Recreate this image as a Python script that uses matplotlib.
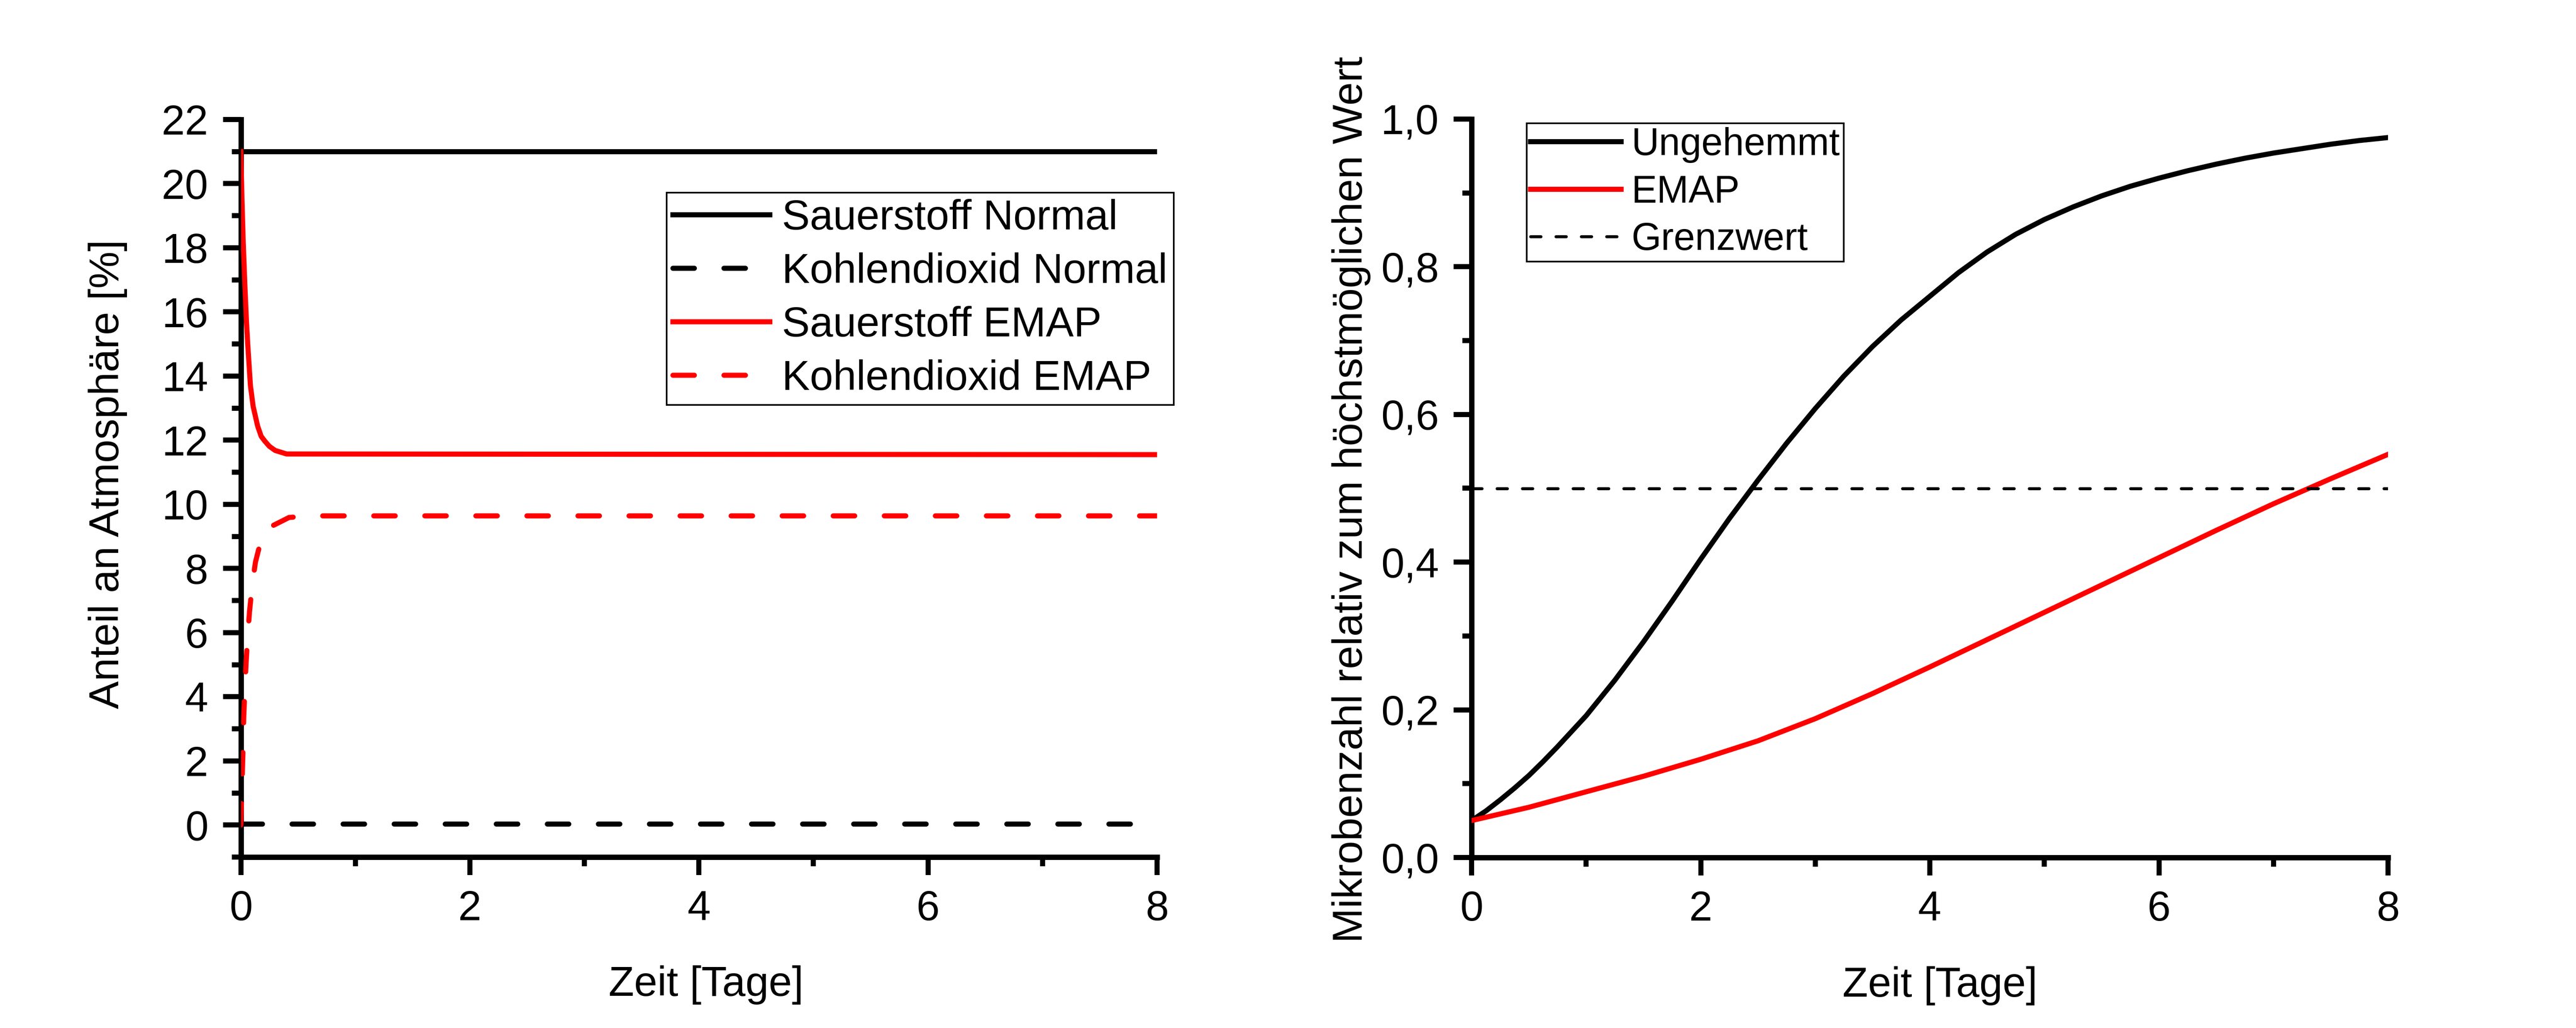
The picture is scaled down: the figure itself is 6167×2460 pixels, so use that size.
import matplotlib
matplotlib.use("Agg")
import matplotlib.pyplot as plt
from matplotlib.ticker import MultipleLocator, FuncFormatter

plt.rcParams['font.family'] = ['Liberation Sans', 'DejaVu Sans']

# ---------------- data: left panel ----------------
t_normal = [0, 8]
o2_normal = [21.0, 21.0]
co2_normal = [0.03, 0.03]

t_o2_emap = [0, 0.01, 0.02, 0.035, 0.05, 0.061, 0.084, 0.108, 0.147, 0.178, 0.21, 0.249, 0.3, 0.4, 8]
o2_emap = [21.0, 19.55, 18.3, 16.87, 15.66, 14.97, 13.70, 13.05, 12.44, 12.12, 11.97, 11.81, 11.68, 11.57, 11.55]

t_co2_emap = [0, 0.005, 0.011, 0.018, 0.026, 0.036, 0.047, 0.06, 0.076, 0.1, 0.128, 0.16, 0.19, 0.232, 0.421, 0.6, 8]
co2_emap = [0, 0.6, 1.3, 2.2, 3.4, 4.3, 5.1, 5.9, 6.65, 7.5, 8.2, 8.65, 9.0, 9.25, 9.59, 9.64, 9.64]

# ---------------- data: right panel ----------------
t_ung = [0, 0.125, 0.25, 0.375, 0.5, 0.625, 0.75, 0.875, 1.0, 1.25, 1.5, 1.75, 2.0, 2.25, 2.5,
         2.75, 3.0, 3.25, 3.5, 3.75, 4.0, 4.25, 4.5, 4.75, 5.0, 5.25, 5.5, 5.75, 6.0, 6.25,
         6.5, 6.75, 7.0, 7.25, 7.5, 7.75, 8.0]
ung = [0.05, 0.063, 0.078, 0.094, 0.111, 0.13, 0.15, 0.171, 0.192, 0.24, 0.292, 0.347, 0.404,
       0.459, 0.511, 0.561, 0.608, 0.652, 0.692, 0.728, 0.76, 0.792, 0.82, 0.844, 0.864, 0.881,
       0.896, 0.909, 0.92, 0.93, 0.939, 0.947, 0.954, 0.96, 0.966, 0.971, 0.975]

t_emap = [0, 0.5, 1, 1.5, 2, 2.5, 3, 3.5, 4, 4.5, 5, 5.5, 6, 6.5, 7, 7.5, 8]
emap = [0.05, 0.068, 0.089, 0.11, 0.133, 0.158, 0.188, 0.222, 0.258, 0.295, 0.332, 0.369,
        0.406, 0.443, 0.479, 0.513, 0.546]

t_grenz = [0, 8]
grenz = [0.5, 0.5]

left_labels = ['Sauerstoff Normal', 'Kohlendioxid Normal', 'Sauerstoff EMAP', 'Kohlendioxid EMAP']
right_labels = ['Ungehemmt', 'EMAP', 'Grenzwert']

W, H = 6167, 2460
DPI = 400
fig = plt.figure(figsize=(W / DPI, H / DPI), dpi=DPI)
fig.patch.set_facecolor('white')

ax1 = fig.add_axes([576.5 / W, (H - 2051) / H, 2193.5 / W, 1765 / H])
ax2 = fig.add_axes([3523 / W, (H - 2052) / H, 2194 / W, 1767 / H])

LW = 2.2
dash_main = (0, (4.2, 5.8))

ax1.plot(t_normal, o2_normal, color='black', lw=LW, zorder=3, label=left_labels[0])
ax1.plot(t_normal, co2_normal, color='black', lw=LW, ls=dash_main, dash_capstyle='round',
         zorder=3, label=left_labels[1])
ax1.plot(t_o2_emap, o2_emap, color='#ff0000', lw=LW, zorder=3, label=left_labels[2])
ax1.plot(t_co2_emap, co2_emap, color='#ff0000', lw=LW, ls=dash_main, dash_capstyle='round',
         zorder=3, label=left_labels[3])

ax2.plot(t_ung, ung, color='black', lw=LW, zorder=3, label=right_labels[0])
ax2.plot(t_emap, emap, color='#ff0000', lw=LW, zorder=3, label=right_labels[1])
ax2.plot(t_grenz, grenz, color='black', lw=1.3, ls=(0, (3.4, 5.0)), dash_capstyle='round',
         zorder=3, label=right_labels[2])

ax1.set_xlim(0, 8)
ax1.set_ylim(-1, 22)
ax2.set_xlim(0, 8)
ax2.set_ylim(0, 1.0)

for ax in (ax1, ax2):
    for s in ('top', 'right'):
        ax.spines[s].set_visible(False)
    for s in ('left', 'bottom'):
        ax.spines[s].set_linewidth(2.3)
        ax.spines[s].set_capstyle('projecting')
    ax.xaxis.set_major_locator(MultipleLocator(2))
    ax.xaxis.set_minor_locator(MultipleLocator(1))
    ax.tick_params(which='major', direction='out', length=7.8, width=2.2, labelsize=18, pad=6.3)
    ax.tick_params(which='minor', direction='out', length=4.0, width=2.2)
    ax.set_xlabel('Zeit [Tage]', fontsize=18)

ax1.yaxis.set_major_locator(MultipleLocator(2))
ax1.yaxis.set_minor_locator(MultipleLocator(1))
ax2.yaxis.set_major_locator(MultipleLocator(0.2))
ax2.yaxis.set_minor_locator(MultipleLocator(0.1))
ax2.yaxis.set_major_formatter(FuncFormatter(lambda v, p: f"{v:.1f}".replace('.', ',')))

ax1.set_ylabel('Anteil an Atmosphäre [%]', fontsize=18)
ax2.set_ylabel('Mikrobenzahl relativ zum höchstmöglichen Wert', fontsize=18)

ax1.yaxis.set_label_coords(-0.1238, 0.519)
ax2.yaxis.set_label_coords(-0.110, 0.4845)
ax1.xaxis.set_label_coords(0.508, -0.147)
ax2.xaxis.set_label_coords(0.511, -0.147)

leg1 = ax1.legend(loc='upper left', bbox_to_anchor=(0.465, 0.9008), borderaxespad=0,
                  fontsize=18, handlelength=2.32, handletextpad=0.29, borderpad=0.15,
                  labelspacing=0.34, fancybox=False, framealpha=1, edgecolor='black')
leg1.get_frame().set_linewidth(0.7)

leg2 = ax2.legend(loc='upper left', bbox_to_anchor=(0.060, 0.9943), borderaxespad=0,
                  fontsize=16.5, handlelength=2.37, handletextpad=0.27, borderpad=0.1,
                  labelspacing=0.3, fancybox=False, framealpha=1, edgecolor='black')
leg2.get_frame().set_linewidth(0.7)

fig.savefig('out.png', dpi=DPI, facecolor='white')
